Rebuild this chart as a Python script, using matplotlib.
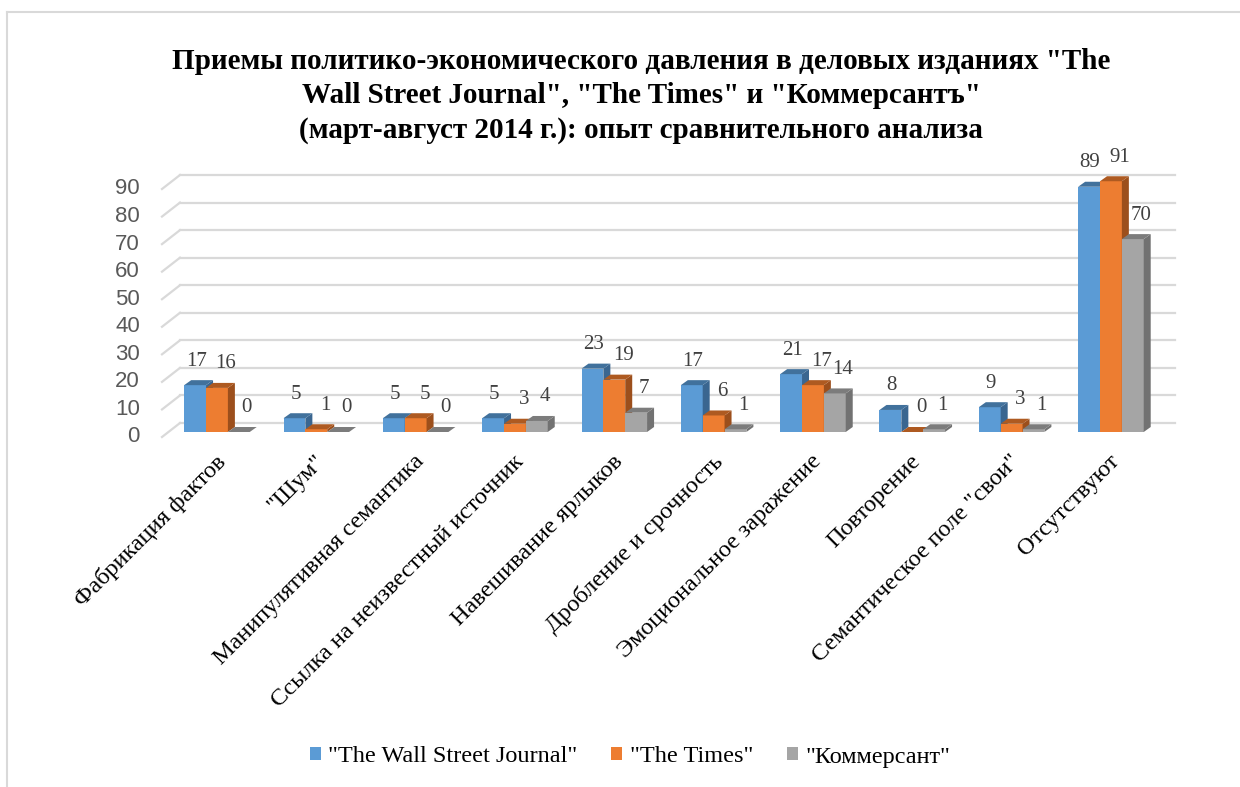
import matplotlib
matplotlib.use('Agg')
import matplotlib.pyplot as plt
from matplotlib.patches import Polygon
from matplotlib.lines import Line2D

# ---------------- data ----------------
categories = ['Фабрикация фактов', '"Шум"', 'Манипулятивная семантика',
              'Ссылка на неизвестный источник', 'Навешивание ярлыков',
              'Дробление и срочность', 'Эмоциональное заражение', 'Повторение',
              'Семантическое поле "свои"', 'Отсутствуют']
series_names = ['"The Wall Street Journal"', '"The Times"', '"Коммерсант"']
wsj = [17, 5, 5, 5, 23, 17, 21, 8, 9, 89]
times = [16, 1, 5, 3, 19, 6, 17, 0, 3, 91]
kommersant = [0, 0, 0, 4, 7, 1, 14, 1, 1, 70]
yticks = [0, 10, 20, 30, 40, 50, 60, 70, 80, 90]
title = ('Приемы политико-экономического давления в деловых изданиях "The\n'
         'Wall Street Journal", "The Times" и "Коммерсантъ"\n'
         '(март-август 2014 г.): опыт сравнительного анализа')

series = [wsj, times, kommersant]
front_colors = ['#5B9BD5', '#ED7D31', '#A5A5A5']
top_colors = ['#41719C', '#AE5A21', '#7C7C7C']
side_colors = ['#3A6690', '#9C4F1C', '#727272']
label_dx = [1, 9, 8]   # horizontal pixel shift of value labels per series

SERIF = ['Liberation Serif', 'DejaVu Serif']
SANS = ['Liberation Sans', 'DejaVu Sans']

W, H, DPI = 1240, 787, 100
fig = plt.figure(figsize=(W / DPI, H / DPI), dpi=DPI)
fig.patch.set_facecolor('white')

# outer chart border (left and top visible)
fig.add_artist(Line2D([6.5 / W, 6.5 / W], [0, 1 - 11.5 / H], color='#D9D9D9', lw=1.5,
                      transform=fig.transFigure))
fig.add_artist(Line2D([6.5 / W, 1], [1 - 11.5 / H, 1 - 11.5 / H], color='#D9D9D9', lw=1.5,
                      transform=fig.transFigure))

L, B, AW, AH = 167.3, 432, 993.3, 248.0
ax = fig.add_axes([L / W, (H - B) / H, AW / W, AH / H])
n = len(categories)
ymax = yticks[-1]
ax.set_xlim(-0.5, n - 0.5)
ax.set_ylim(0, ymax)
ax.axis('off')

px_x = AW / n
px_y = AH / ymax
# depth offsets (data units)
dxb, dyb = 7 / px_x, 5 / px_y          # bar depth
bx, by = 12.7 / px_x, 9 / px_y         # back wall
fx, fy = -5.3 / px_x, -5 / px_y        # front of floor

# gridlines (back wall + left diagonal)
for v in yticks:
    ax.plot([-0.5 + fx, -0.5 + bx], [v + fy, v + by], color='#D9D9D9', lw=1.6,
            clip_on=False, zorder=0.5)
    ax.plot([-0.5 + bx, n - 0.5 + bx + 0.02], [v + by, v + by], color='#D9D9D9', lw=1.6,
            clip_on=False, zorder=0.5)
    ax.annotate(str(v), xy=(-0.5 + fx, v + fy), xytext=(-22, 0), textcoords='offset pixels',
                ha='right', va='center', fontsize=16, family=SANS, color='#595959',
                annotation_clip=False)

w = 0.22
offs = [-w, 0, w]
handles = []
for s, vals in enumerate(series):
    z = 2 + s * 0.1
    xs = [i + offs[s] for i in range(n)]
    bc = ax.bar(xs, vals, w, color=front_colors[s], zorder=z, label=series_names[s],
                linewidth=0, clip_on=False)
    handles.append(bc)
    for x, v in zip(xs, vals):
        x0, x1 = x - w / 2, x + w / 2
        top = Polygon([(x0, v), (x1, v), (x1 + dxb, v + dyb), (x0 + dxb, v + dyb)],
                      closed=True, facecolor=top_colors[s], edgecolor='none',
                      zorder=z + 0.05, clip_on=False)
        side = Polygon([(x1, 0), (x1 + dxb, dyb), (x1 + dxb, v + dyb), (x1, v)],
                       closed=True, facecolor=side_colors[s], edgecolor='none',
                       zorder=z + 0.05, clip_on=False)
        ax.add_patch(side)
        ax.add_patch(top)
        ax.annotate(str(v), xy=(x, v), xytext=(label_dx[s], 24), textcoords='offset pixels',
                    ha='center', va='center', fontsize=15, family=SERIF, color='#404040',
                    annotation_clip=False, zorder=5)

# category labels
for i, c in enumerate(categories):
    ax.annotate(c, xy=(i, 0), xytext=(-2, -19), textcoords='offset pixels',
                rotation=45, rotation_mode='anchor', ha='right', va='top',
                fontsize=17.5, family=SERIF, color='#000000', annotation_clip=False)

fig.text(641 / W, 1 - 96 / H, title, ha='center', va='center', fontsize=21,
         fontweight='bold', family=SERIF, color='#000000', linespacing=1.36)

fig.legend(handles=handles, labels=series_names, loc='center',
           bbox_to_anchor=(630 / W, 1 - 757 / H), ncol=3, frameon=False,
           prop={'family': SERIF, 'size': 17.5}, handlelength=0.45, handleheight=0.45,
           handletextpad=0.3, columnspacing=1.4)

fig.savefig('out.png', dpi=DPI, facecolor='white')
